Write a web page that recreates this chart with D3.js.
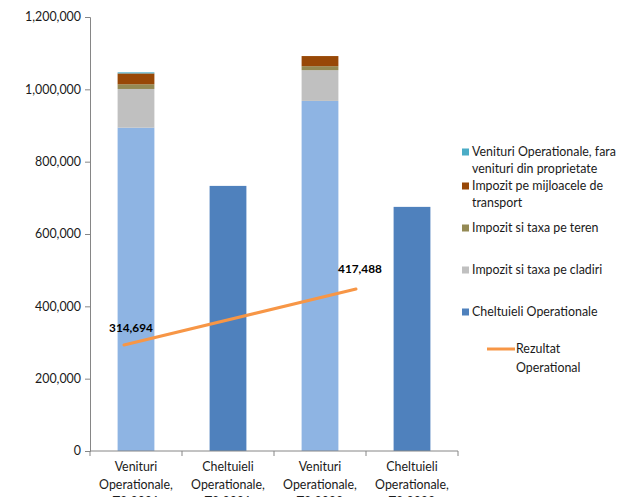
<!DOCTYPE html>
<html>
<head>
<meta charset="utf-8">
<script src="https://cdn.jsdelivr.net/npm/d3@7"></script>
<style>
  html, body { margin: 0; padding: 0; background: #fff; }
  svg { display: block; font-family: Lato, "Liberation Sans", sans-serif; }
</style>
</head>
<body>
<svg id="chart" width="618" height="497"></svg>
<script>
// ---- data ----
const categories = [
  ["Venituri", "Operationale,", "T3 2021"],
  ["Cheltuieli", "Operationale,", "T3 2021"],
  ["Venituri", "Operationale,", "T3 2022"],
  ["Cheltuieli", "Operationale,", "T3 2022"]
];
const venituriBaza = [894000, 0, 968000, 0];
const impozitCladiri = [107000, 0, 85000, 0];
const impozitTeren = [13000, 0, 11000, 0];
const impozitTransport = [30000, 0, 28000, 0];
const venituriFaraProprietate = [3000, 0, 0, 0];
const cheltuieliOperationale = [0, 733000, 0, 675000];
const rezultatPeriods = ["T3 2021", "T3 2022"];
const rezultatOperational = [314694, 417488];
const yTicks = [0, 200000, 400000, 600000, 800000, 1000000, 1200000];

const series = [
  { name: "Venituri din proprietate", values: venituriBaza, color: "#8EB4E3" },
  { name: "Impozit si taxa pe cladiri", values: impozitCladiri, color: "#C0C0C0" },
  { name: "Impozit si taxa pe teren", values: impozitTeren, color: "#948A54" },
  { name: "Impozit pe mijloacele de transport", values: impozitTransport, color: "#984807" },
  { name: "Venituri Operationale, fara venituri din proprietate", values: venituriFaraProprietate, color: "#4BACC6" },
  { name: "Cheltuieli Operationale", values: cheltuieliOperationale, color: "#4F81BD" }
];

// ---- layout ----
const FS = 12.4;
const svg = d3.select("#chart");
const plot = { left: 90, right: 458, top: 17, bottom: 451 };

const x = d3.scaleBand()
  .domain(d3.range(categories.length))
  .range([plot.left, plot.right])
  .paddingInner(0.6)
  .paddingOuter(0.3);

const y = d3.scaleLinear().domain([0, 1200000]).range([plot.bottom, plot.top]);

// secondary (hidden) axes for the line series
const x2 = d3.scalePoint().domain(rezultatPeriods)
  .range([plot.left + 34, plot.left + 266]);
const y2 = d3.scaleLinear().domain([120000, 917000]).range([plot.bottom, plot.top]);

// ---- stacked bars ----
const table = d3.range(categories.length).map(i => {
  const row = { i };
  series.forEach((s, k) => row["s" + k] = s.values[i]);
  return row;
});
const stacked = d3.stack().keys(series.map((s, k) => "s" + k))(table);

svg.append("g").selectAll("g")
  .data(stacked)
  .join("g")
  .attr("fill", (d, k) => series[k].color)
  .selectAll("rect")
  .data(d => d.filter(p => p[1] - p[0] > 0))
  .join("rect")
  .attr("x", d => x(d.data.i))
  .attr("width", x.bandwidth())
  .attr("y", d => y(d[1]))
  .attr("height", d => y(d[0]) - y(d[1]));

// ---- axes ----
const axisColor = "#868686";
const yAxis = svg.append("g")
  .attr("transform", `translate(${plot.left},0)`)
  .call(d3.axisLeft(y).tickValues(yTicks).tickSize(5).tickPadding(4)
    .tickFormat(d3.format(",")));
yAxis.select(".domain").attr("stroke", axisColor);
yAxis.selectAll(".tick line").attr("stroke", axisColor);
yAxis.selectAll(".tick text").attr("font-size", FS).attr("fill", "#1a1a1a")
  .attr("font-family", "Lato, sans-serif");

// x axis line and boundary ticks
const xg = svg.append("g");
xg.append("line")
  .attr("x1", plot.left).attr("x2", plot.right)
  .attr("y1", plot.bottom).attr("y2", plot.bottom)
  .attr("stroke", axisColor);
d3.range(categories.length + 1).forEach(i => {
  const bx = plot.left + i * (plot.right - plot.left) / categories.length;
  xg.append("line")
    .attr("x1", bx).attr("x2", bx)
    .attr("y1", plot.bottom).attr("y2", plot.bottom + 5)
    .attr("stroke", axisColor);
});
// category labels
categories.forEach((lines, i) => {
  const cx = x(i) + x.bandwidth() / 2;
  const t = xg.append("text")
    .attr("x", cx)
    .attr("y", plot.bottom + 20)
    .attr("text-anchor", "middle")
    .attr("font-size", FS)
    .attr("fill", "#1a1a1a");
  lines.forEach((ln, j) => {
    t.append("tspan").attr("x", cx)
      .attr("dy", j === 0 ? 0 : 17.5).text(ln);
  });
});

// ---- line series ----
const line = d3.line()
  .x((d, i) => x2(rezultatPeriods[i]))
  .y(d => y2(d));
svg.append("path")
  .datum(rezultatOperational)
  .attr("d", line)
  .attr("fill", "none")
  .attr("stroke", "#F79646")
  .attr("stroke-width", 3)
  .attr("stroke-linecap", "round");

svg.append("g").selectAll("text")
  .data(rezultatOperational)
  .join("text")
  .attr("x", (d, i) => x2(rezultatPeriods[i]) + (i === 0 ? 7 : 4))
  .attr("y", (d, i) => y2(d) - (i === 0 ? 13 : 16))
  .attr("text-anchor", "middle")
  .attr("font-size", 11.8)
  .attr("font-weight", "bold")
  .attr("fill", "#000")
  .text(d => d3.format(",")(d));

// ---- legend ----
const legendItems = [
  { lines: ["Venituri Operationale, fara", "venituri din proprietate"], color: series[4].color, y: 152 },
  { lines: ["Impozit pe mijloacele de", "transport"], color: series[3].color, y: 186 },
  { lines: ["Impozit si taxa pe teren"], color: series[2].color, y: 228 },
  { lines: ["Impozit si taxa pe cladiri"], color: series[1].color, y: 270 },
  { lines: ["Cheltuieli Operationale"], color: series[5].color, y: 312 }
];
const lg = svg.append("g");
legendItems.forEach(it => {
  lg.append("rect").attr("x", 462).attr("y", it.y - 3.5).attr("width", 7).attr("height", 7)
    .attr("fill", it.color);
  const t = lg.append("text").attr("x", 472).attr("y", it.y + 4)
    .attr("font-size", FS).attr("fill", "#1a1a1a");
  it.lines.forEach((ln, j) => t.append("tspan").attr("x", 472).attr("dy", j === 0 ? 0 : 17).text(ln));
});
lg.append("line").attr("x1", 487).attr("x2", 515).attr("y1", 349).attr("y2", 349)
  .attr("stroke", "#F79646").attr("stroke-width", 3);
const lt = lg.append("text").attr("x", 516).attr("y", 353).attr("font-size", FS).attr("fill", "#1a1a1a");
lt.append("tspan").attr("x", 516).text("Rezultat");
lt.append("tspan").attr("x", 516).attr("dy", 19).text("Operational");
</script>
</body>
</html>
